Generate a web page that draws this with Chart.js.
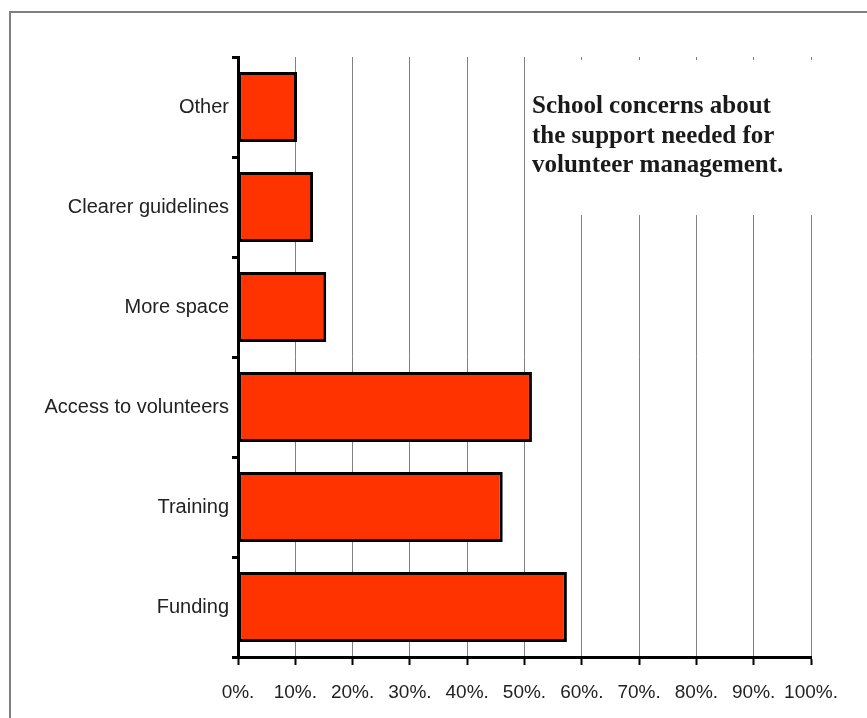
<!DOCTYPE html>
<html>
<head>
<meta charset="utf-8">
<script src="https://cdn.jsdelivr.net/npm/chart.js@4.4.1/dist/chart.umd.min.js"></script>
<style>
  html, body { margin: 0; padding: 0; background: #fff; }
  canvas { display: block; }
</style>
</head>
<body>
<canvas id="supportChart" width="867" height="718"></canvas>
<script>
const categories = ['Other', 'Clearer guidelines', 'More space', 'Access to volunteers', 'Training', 'Funding'];
const shares = [10.3, 13.1, 15.4, 51.3, 46.2, 57.4];
const tickLabels = ['0%.', '10%.', '20%.', '30%.', '40%.', '50%.', '60%.', '70%.', '80%.', '90%.', '100%.'];
const titleLines = ['School concerns about', 'the support needed for', 'volunteer management.'];

// gray frame round the figure + white note box over the upper right grid
const framePlugin = {
  id: 'frame',
  beforeDatasetsDraw(chart) {
    const ctx = chart.ctx;
    ctx.save();
    ctx.fillStyle = '#fff';
    ctx.fillRect(529, 60, 300, 155);
    ctx.restore();
  },
  afterDraw(chart) {
    const ctx = chart.ctx;
    ctx.save();
    ctx.strokeStyle = '#808080';
    ctx.lineWidth = 2;
    ctx.beginPath();
    ctx.moveTo(10, 718);
    ctx.lineTo(10, 12);
    ctx.lineTo(867, 12);
    ctx.stroke();

    ctx.fillStyle = '#1a1a1a';
    ctx.font = 'bold 25px "Liberation Serif", "Times New Roman", serif';
    ctx.textAlign = 'left';
    ctx.textBaseline = 'alphabetic';
    titleLines.forEach((line, i) => {
      ctx.fillText(line, 532, 113 + i * 29.5);
    });
    ctx.restore();
  }
};

const ctx = document.getElementById('supportChart').getContext('2d');
new Chart(ctx, {
  type: 'bar',
  data: {
    labels: categories,
    datasets: [
      {
        data: shares,
        backgroundColor: '#ff3300',
        borderColor: '#000',
        borderWidth: 3,
        borderSkipped: false,
        categoryPercentage: 0.7,
        barPercentage: 1.0,
      },
    ],
  },
  options: {
    indexAxis: 'y',
    responsive: false,
    animation: false,
    layout: {
      padding: { left: 0, top: 57, right: 56, bottom: 0 },
    },
    plugins: {
      legend: { display: false },
      tooltip: { enabled: false },
    },
    scales: {
      x: {
        min: 0,
        max: 100,
        afterFit: (scale) => {
          scale.height = 61;
          scale.paddingLeft = 0;
          scale.paddingRight = 0;
        },
        ticks: {
          stepSize: 10,
          autoSkip: false,
          maxRotation: 0,
          padding: 16,
          color: '#222',
          font: { family: '"Liberation Sans", Arial, sans-serif', size: 19 },
          callback: (value, index) => tickLabels[index],
        },
        grid: {
          color: '#808080',
          lineWidth: 1,
          tickColor: '#000',
          tickLength: 8,
          tickWidth: 2,
        },
        border: {
          display: true,
          color: '#000',
          width: 3,
        },
      },
      y: {
        afterFit: (scale) => {
          scale.width = 238;
        },
        ticks: {
          padding: 3,
          color: '#222',
          font: { family: '"Liberation Sans", Arial, sans-serif', size: 20 },
        },
        grid: {
          offset: true,
          drawOnChartArea: false,
          tickColor: '#000',
          tickLength: 6,
          tickWidth: 3,
        },
        border: {
          display: true,
          color: '#000',
          width: 3,
        },
      },
    },
  },
  plugins: [framePlugin],
});
</script>
</body>
</html>
